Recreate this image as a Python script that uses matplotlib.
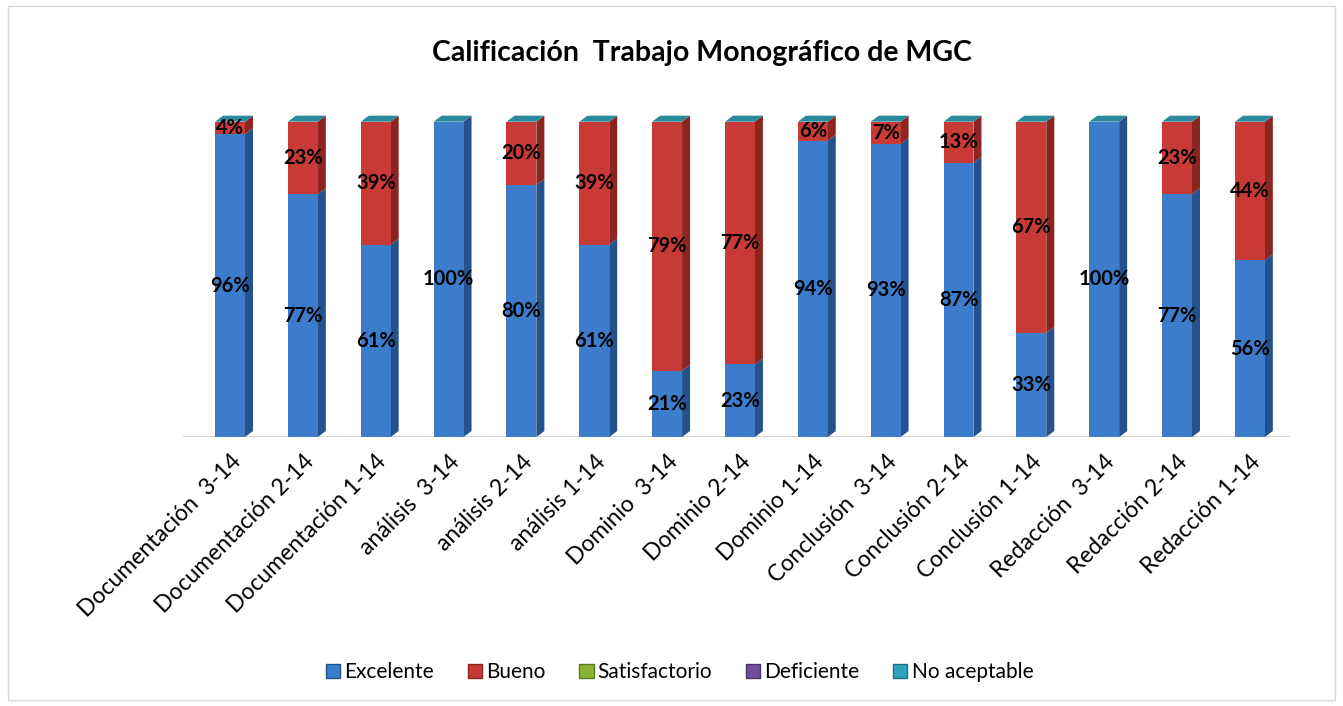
import numpy as np
import matplotlib.pyplot as plt
from matplotlib.patches import Rectangle, Polygon

categories = ['Documentación  3-14', 'Documentación 2-14', 'Documentación 1-14',
              'análisis  3-14', 'análisis 2-14', 'análisis 1-14',
              'Dominio  3-14', 'Dominio 2-14', 'Dominio 1-14',
              'Conclusión  3-14', 'Conclusión 2-14', 'Conclusión 1-14',
              'Redacción  3-14', 'Redacción 2-14', 'Redacción 1-14']
excelente = [96, 77, 61, 100, 80, 61, 21, 23, 94, 93, 87, 33, 100, 77, 56]
bueno = [4, 23, 39, 0, 20, 39, 79, 77, 6, 7, 13, 67, 0, 23, 44]
satisfactorio = [0] * 15
deficiente = [0] * 15
no_aceptable = [0] * 15

series = ['Excelente', 'Bueno', 'Satisfactorio', 'Deficiente', 'No aceptable']
front = ['#3c7ccb', '#c83a35', '#8bb33a', '#6f4f9a', '#2ea3bd']
side = ['#25518c', '#8c2521', '#5d7a22', '#4a3368', '#1d6f82']

plt.rcParams['font.family'] = ['Lato', 'DejaVu Sans']

fig = plt.figure(figsize=(13.43, 7.06), dpi=100)
fig.patches.append(Rectangle((8 / 1343, 6 / 706), 1327 / 1343, 694 / 706,
                             transform=fig.transFigure, fill=False,
                             edgecolor='#d9d9d9', linewidth=1))
ax = fig.add_axes([0.1363, 0.381, 0.8242, 0.469])

x = np.arange(len(categories))
w = 0.41
dx, dy = 0.11, 1.9
data = [excelente, bueno, satisfactorio, deficiente, no_aceptable]

bottom = np.zeros(len(categories))
for vals, fc, sc, name in zip(data, front, side, series):
    vals = np.array(vals, dtype=float)
    ax.bar(x, vals, w, bottom=bottom, color=fc, label=name, zorder=2)
    for xi, b, v in zip(x, bottom, vals):
        if v > 0:
            ax.add_patch(Polygon([(xi + w / 2, b), (xi + w / 2 + dx, b + dy),
                                  (xi + w / 2 + dx, b + v + dy), (xi + w / 2, b + v)],
                                 closed=True, facecolor=sc, edgecolor='none', zorder=1))
            ax.text(xi, b + v / 2, f'{int(v)}%', ha='center', va='center',
                    fontsize=14.5, fontweight='bold', color='black', zorder=4)
    bottom += vals

# top caps
for xi, t in zip(x, bottom):
    ax.add_patch(Polygon([(xi - w / 2, t), (xi + w / 2, t), (xi + w / 2 + dx, t + dy),
                          (xi - w / 2 + dx, t + dy)], closed=True,
                         facecolor='#2a8a9c', edgecolor='none', zorder=3))

ax.set_xlim(-0.645, 14.55)
ax.set_ylim(0, 105)
ax.axhline(0, color='#d0d0d0', linewidth=2, zorder=0)
for s in ax.spines.values():
    s.set_visible(False)
ax.set_yticks([])
ax.set_xticks(x)
ax.set_xticklabels(categories, rotation=45, ha='right', rotation_mode='anchor',
                   fontsize=16.5)
ax.tick_params(axis='x', length=0, pad=10)

fig.text(0.523, 0.925, 'Calificación  Trabajo Monográfico de MGC', ha='center',
         va='center', fontsize=20.5, fontweight='bold')

handles = [Rectangle((0, 0), 1, 1, facecolor=c, edgecolor=s) for c, s in zip(front, side)]
fig.legend(handles, series, loc='center', bbox_to_anchor=(0.506, 0.048), ncol=5,
           frameon=False, fontsize=15, handlelength=0.7, handleheight=0.7,
           handletextpad=0.2, columnspacing=1.6)

fig.savefig('out.png', dpi=100)
